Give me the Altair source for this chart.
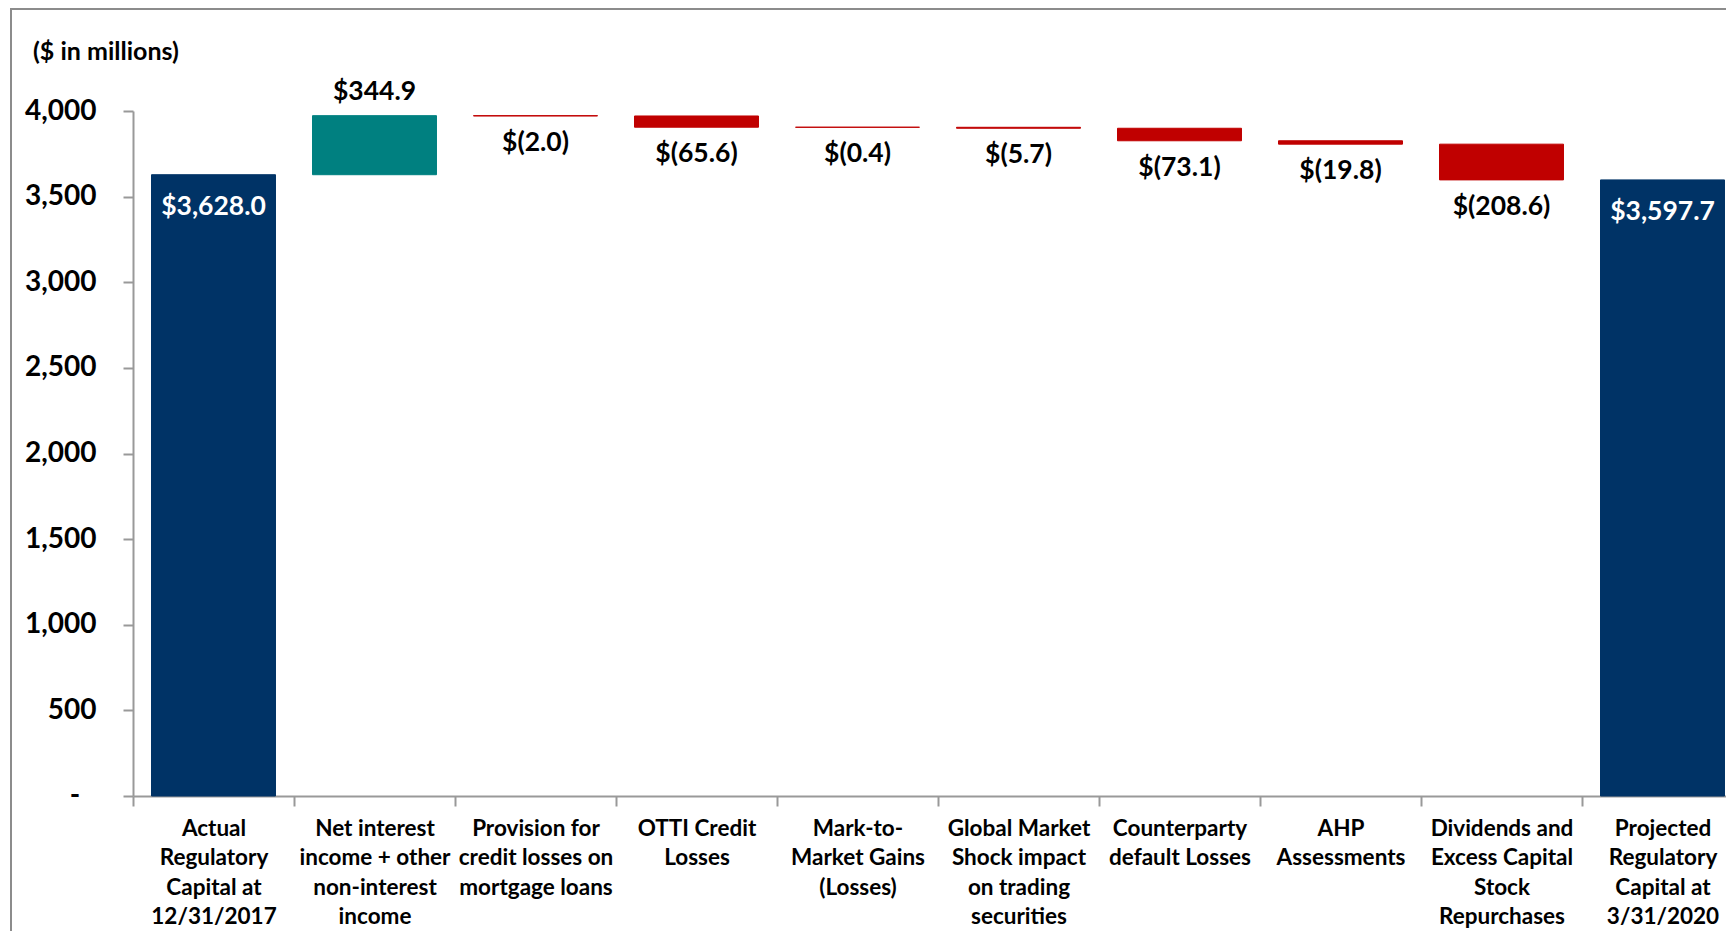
import altair as alt
import pandas as pd

categories = [
    "Actual|Regulatory|Capital at|12/31/2017",
    "Net interest|income + other|non-interest|income",
    "Provision for|credit losses on|mortgage loans",
    "OTTI Credit|Losses",
    "Mark-to-|Market Gains|(Losses)",
    "Global Market|Shock impact|on trading|securities",
    "Counterparty|default Losses",
    "AHP|Assessments",
    "Dividends and|Excess Capital|Stock|Repurchases",
    "Projected|Regulatory|Capital at|3/31/2020",
]
kinds = ["total", "up", "down", "down", "down", "down", "down", "down", "down", "total"]
values = [3628.0, 344.9, -2.0, -65.6, -0.4, -5.7, -73.1, -19.8, -208.6, 3597.7]
labels = ["$3,628.0", "$344.9", "$(2.0)", "$(65.6)", "$(0.4)", "$(5.7)",
          "$(73.1)", "$(19.8)", "$(208.6)", "$3,597.7"]
y_ticks = [0, 500, 1000, 1500, 2000, 2500, 3000, 3500, 4000]

rows = []
running = 0.0
for c, k, v, l in zip(categories, kinds, values, labels):
    if k == "total":
        start, end = 0.0, v
        running = v
    else:
        start = running
        end = running + v
        running = end
    rows.append({"cat": c, "kind": k, "start": start, "end": end,
                 "top": max(start, end), "bottom": min(start, end), "label": l})
df = pd.DataFrame(rows)

W, H = 1610, 685
FONT = "Lato"

xenc = alt.X("cat:N", sort=categories, title=None,
             scale=alt.Scale(paddingInner=0, paddingOuter=0),
             axis=alt.Axis(labelExpr="split(datum.label, '|')", labelAngle=0,
                           labelFont=FONT, labelFontSize=22.5, labelFontWeight="bold",
                           labelColor="#000000", labelLineHeight=29.5, labelPadding=11,
                           tickBand="extent", tickSize=10, tickColor="#999999",
                           domainColor="#999999", domainWidth=2, tickWidth=2,
                           labelLimit=300))

yscale = alt.Scale(domain=[0, 4000], nice=False)
cscale = alt.Scale(domain=["total", "up", "down"], range=["#003366", "#008080", "#C00000"])

bars = alt.Chart(df).mark_bar(width={"band": 0.77}, strokeWidth=1).encode(
    x=xenc,
    y=alt.Y("start:Q", scale=yscale, title=None,
            axis=alt.Axis(values=y_ticks,
                          labelExpr="datum.value == 0 ? '' : format(datum.value, ',')",
                          labelFont=FONT, labelFontSize=28, labelFontWeight="bold",
                          labelColor="#000000", labelPadding=27, tickSize=10,
                          tickColor="#999999", domainColor="#999999", domainWidth=2,
                          tickWidth=2, grid=False)),
    y2="end:Q",
    color=alt.Color("kind:N", legend=None, scale=cscale),
    stroke=alt.Color("kind:N", legend=None, scale=cscale),
)

# zero tick label shown as a dash (accounting style)
zero_lbl = alt.Chart(pd.DataFrame({"v": [0], "t": ["-"]})).mark_text(
    font=FONT, fontSize=28, fontWeight="bold", color="black", align="center", baseline="middle"
).encode(x=alt.value(-58), y=alt.Y("v:Q", scale=yscale), text="t:N")

base_text = alt.Chart(df)
txt_total = base_text.transform_filter("datum.kind == 'total'").mark_text(
    font=FONT, fontSize=26.5, fontWeight="bold", color="white", baseline="middle", dy=32
).encode(x=alt.X("cat:N", sort=categories), y=alt.Y("top:Q", scale=yscale), text="label:N")

txt_up = base_text.transform_filter("datum.kind == 'up'").mark_text(
    font=FONT, fontSize=26.5, fontWeight="bold", color="black", baseline="middle", dy=-24
).encode(x=alt.X("cat:N", sort=categories), y=alt.Y("top:Q", scale=yscale), text="label:N")

txt_down = base_text.transform_filter("datum.kind == 'down'").mark_text(
    font=FONT, fontSize=26.5, fontWeight="bold", color="black", baseline="middle", dy=27
).encode(x=alt.X("cat:N", sort=categories), y=alt.Y("bottom:Q", scale=yscale), text="label:N")

unit = alt.Chart(pd.DataFrame({"t": ["($ in millions)"]})).mark_text(
    font=FONT, fontSize=25, fontWeight="bold", color="black", align="left", baseline="middle"
).encode(x=alt.value(-100), y=alt.value(-59), text="t:N")

frame_left = alt.Chart(pd.DataFrame({"a": [0]})).mark_rect(color="#8c8c8c").encode(
    x=alt.value(-123), x2=alt.value(-121), y=alt.value(-103), y2=alt.value(H + 200))
frame_top = alt.Chart(pd.DataFrame({"a": [0]})).mark_rect(color="#8c8c8c").encode(
    x=alt.value(-123), x2=alt.value(W + 200), y=alt.value(-103), y2=alt.value(-101))

chart = alt.layer(bars, zero_lbl, txt_total, txt_up, txt_down, unit, frame_left, frame_top).properties(
    width=W, height=H,
    autosize=alt.AutoSizeParams(type="none"),
    padding={"left": 125, "top": 103, "right": -17, "bottom": 135},
    background="white",
).configure_view(stroke=None)

chart.save("out.html", embed_options={"renderer": "svg", "actions": False})
